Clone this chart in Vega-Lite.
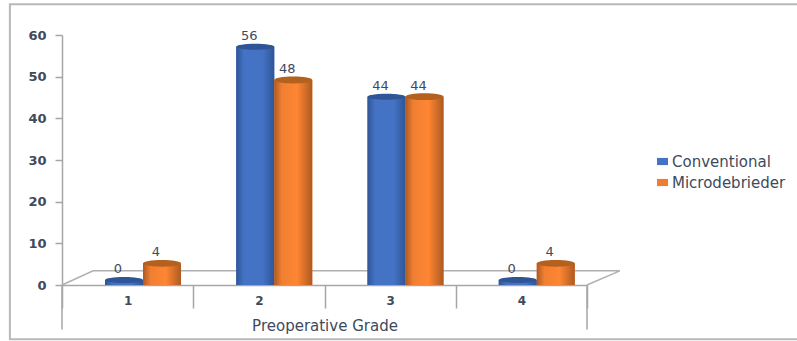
{
  "$schema": "https://vega.github.io/schema/vega-lite/v6.json",
  "width": 525,
  "height": 250,
  "autosize": {"type": "none"},
  "padding": {"left": 62, "top": 35, "right": 210, "bottom": 56},
  "background": "white",
  "config": {
    "view": {"stroke": null},
    "text": {"font": "DejaVu Sans"},
    "axis": {"labelFont": "DejaVu Sans", "titleFont": "DejaVu Sans"},
    "legend": {"labelFont": "DejaVu Sans"}
  },
  "data": {
    "values": [
      {"grade": "1", "technique": "Conventional", "percent": 0},
      {"grade": "1", "technique": "Microdebrieder", "percent": 4},
      {"grade": "2", "technique": "Conventional", "percent": 56},
      {"grade": "2", "technique": "Microdebrieder", "percent": 48},
      {"grade": "3", "technique": "Conventional", "percent": 44},
      {"grade": "3", "technique": "Microdebrieder", "percent": 44},
      {"grade": "4", "technique": "Conventional", "percent": 0},
      {"grade": "4", "technique": "Microdebrieder", "percent": 4}
    ]
  },
  "resolve": {"scale": {"x": "independent"}},
  "layer": [
    {
      "description": "Picture frame, floor and long end ticks, on a continuous category scale",
      "encoding": {
        "x": {"field": "u", "type": "quantitative", "scale": {"domain": [0.5, 4.5], "nice": false, "zero": false}, "axis": null},
        "y": {"field": "v", "type": "quantitative", "scale": {"domain": [0, 60], "nice": false}}
      },
      "layer": [
        {
          "data": {"values": [
            {"u": 6.2, "v": 67.4, "o": 0},
            {"u": 0.103, "v": 67.4, "o": 1},
            {"u": 0.103, "v": -13, "o": 2},
            {"u": 6.2, "v": -13, "o": 3}
          ]},
          "mark": {"type": "line", "stroke": "#b8b8b8", "strokeWidth": 2, "clip": false},
          "encoding": {"order": {"field": "o"}}
        },
        {
          "data": {"values": [
            {"u": 0.5, "v": 0, "o": 0},
            {"u": 0.737, "v": 3.4, "o": 1},
            {"u": 4.75, "v": 3.4, "o": 2},
            {"u": 4.5, "v": 0, "o": 3}
          ]},
          "mark": {"type": "line", "stroke": "#b0b0b0", "strokeWidth": 1.5, "clip": false},
          "encoding": {"order": {"field": "o"}}
        },
        {
          "data": {"values": [{"u": 0.5, "v": 0, "v2": -10.7}, {"u": 4.5, "v": 0, "v2": -10.7}]},
          "mark": {"type": "rule", "stroke": "#a6a6a6", "strokeWidth": 1.5, "clip": false},
          "encoding": {"y2": {"field": "v2"}}
        }
      ]
    },
    {
      "description": "Cylinders: flat bar, shaded body, base ellipse and top ellipse for each technique",
      "encoding": {
        "x": {
          "field": "grade", "type": "nominal",
          "scale": {"paddingInner": 0, "paddingOuter": 0},
          "axis": {
            "title": "Preoperative Grade", "labelAngle": 0, "tickBand": "extent", "tickSize": 23,
            "tickColor": "#a6a6a6", "tickWidth": 1.5, "domainColor": "#a6a6a6", "domainWidth": 1.5,
            "labelColor": "#404a5c", "labelFontSize": 12, "labelFontWeight": "bold", "labelPadding": -13, "titleColor": "#404a5c",
            "titleFontSize": 15, "titleFontWeight": "normal", "titlePadding": 10
          }
        },
        "xOffset": {
          "field": "technique", "type": "nominal",
          "scale": {"domain": ["Conventional", "Microdebrieder"], "range": [43, 119], "paddingInner": 0, "paddingOuter": 0}
        },
        "y": {
          "field": "percent", "type": "quantitative", "stack": null,
          "scale": {"domain": [0, 60], "nice": false},
          "axis": {
            "title": null, "values": [0, 10, 20, 30, 40, 50, 60], "grid": false,
            "tickColor": "#a6a6a6", "tickSize": 7, "tickWidth": 1.5, "domainColor": "#a6a6a6", "domainWidth": 1.5,
            "labelColor": "#404a5c", "labelFontSize": 13, "labelFontWeight": "bold", "labelPadding": 9
          }
        }
      },
      "layer": [
        {
          "mark": {"type": "bar", "yOffset": -5, "y2Offset": -5},
          "encoding": {
            "color": {
              "field": "technique", "type": "nominal",
              "scale": {"domain": ["Conventional", "Microdebrieder"], "range": ["#4472c4", "#ed7d31"]},
              "legend": {
                "title": null, "orient": "none", "legendX": 593, "legendY": 119,
                "symbolType": "M-1,-0.65H1V0.65H-1Z", "symbolSize": 121, "symbolStrokeWidth": 0,
                "labelColor": "#404a5c", "labelFontSize": 15, "labelOffset": 2, "rowPadding": 5
              }
            }
          }
        },
        {
          "transform": [{"filter": "datum.technique === 'Conventional'"}],
          "mark": {"type": "bar", "yOffset": -5, "y2Offset": -5, "fill": {"gradient": "linear", "x1": 0, "x2": 1, "y1": 0, "y2": 0, "stops": [
            {"offset": 0, "color": "#2f5597"}, {"offset": 0.2, "color": "#4472c4"}, {"offset": 0.7, "color": "#4472c4"}, {"offset": 1, "color": "#2f5597"}
          ]}}
        },
        {
          "transform": [{"filter": "datum.technique === 'Conventional' && datum.percent > 0"}],
          "mark": {"type": "point", "yOffset": -5, "filled": true, "opacity": 1, "size": 1444, "shape": "M-1,0A1,0.12,0,1,0,1,0A1,0.12,0,1,0,-1,0Z", "fill": {"gradient": "linear", "x1": 0, "x2": 1, "y1": 0, "y2": 0, "stops": [
            {"offset": 0, "color": "#2f5597"}, {"offset": 0.2, "color": "#4472c4"}, {"offset": 0.7, "color": "#4472c4"}, {"offset": 1, "color": "#2f5597"}
          ]}},
          "encoding": {"y": {"datum": 0}}
        },
        {
          "transform": [{"filter": "datum.technique === 'Conventional'"}],
          "mark": {"type": "point", "yOffset": -5, "filled": true, "opacity": 1, "size": 1444, "shape": "M-1,0A1,0.16,0,1,0,1,0A1,0.16,0,1,0,-1,0Z", "fill": "#2f5597"}
        },
        {
          "transform": [{"filter": "datum.technique === 'Microdebrieder'"}],
          "mark": {"type": "bar", "yOffset": -5, "y2Offset": -5, "fill": {"gradient": "linear", "x1": 0, "x2": 1, "y1": 0, "y2": 0, "stops": [
            {"offset": 0, "color": "#ae5a21"}, {"offset": 0.2, "color": "#f07f32"}, {"offset": 0.6, "color": "#ff8632"}, {"offset": 1, "color": "#ae5a21"}
          ]}}
        },
        {
          "transform": [{"filter": "datum.technique === 'Microdebrieder'"}],
          "mark": {"type": "point", "yOffset": -5, "filled": true, "opacity": 1, "size": 1444, "shape": "M-1,0A1,0.12,0,1,0,1,0A1,0.12,0,1,0,-1,0Z", "fill": {"gradient": "linear", "x1": 0, "x2": 1, "y1": 0, "y2": 0, "stops": [
            {"offset": 0, "color": "#ae5a21"}, {"offset": 0.2, "color": "#f07f32"}, {"offset": 0.6, "color": "#ff8632"}, {"offset": 1, "color": "#ae5a21"}
          ]}},
          "encoding": {"y": {"datum": 0}}
        },
        {
          "transform": [{"filter": "datum.technique === 'Microdebrieder'"}],
          "mark": {"type": "point", "yOffset": -5, "filled": true, "opacity": 1, "size": 1444, "shape": "M-1,0A1,0.18,0,1,0,1,0A1,0.18,0,1,0,-1,0Z", "fill": "#b4601f"}
        },
        {
          "mark": {"type": "text", "dx": -6, "yOffset": -16, "fontSize": 13, "color": "#404a5c"},
          "encoding": {"text": {"field": "percent", "type": "quantitative"}}
        }
      ]
    }
  ]
}
